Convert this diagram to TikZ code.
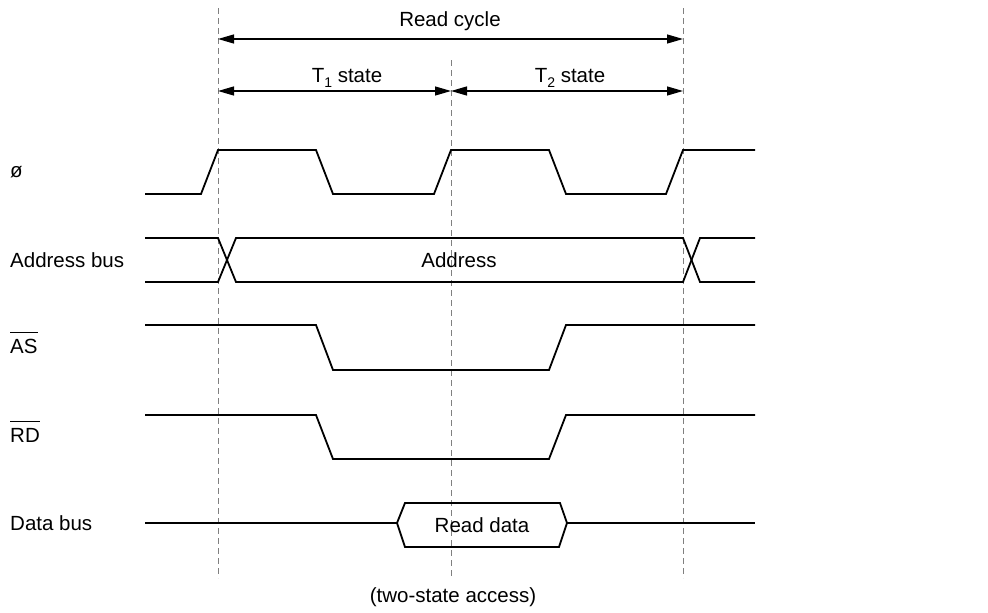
\documentclass[tikz,border=0pt]{standalone}
\usepackage{fontspec}
\setmainfont{Liberation Sans}
\usetikzlibrary{arrows.meta,positioning,calc}
\newcommand\notsig[1]{\sbox0{#1}\rlap{\rule[1em]{\wd0}{0.9pt}}\usebox0}
\newcommand\tsub[1]{\raisebox{-0.28em}{\fontsize{14pt}{16pt}\selectfont #1}}

\begin{document}
\begin{tikzpicture}[
 x=1pt, y=-1pt, font=\fontsize{20.5pt}{24pt}\selectfont,
 sig/.style={line width=1.8pt,line join=miter},
 guide/.style={gray,line width=1pt,dash pattern=on 6pt off 4pt},
 dim/.style={{Triangle[length=16pt,width=9pt]}-{Triangle[length=16pt,width=9pt]},line width=1.3pt},
 lbl/.style={anchor=base west,inner sep=0pt},
 txt/.style={anchor=base,inner sep=0pt}
]
\useasboundingbox (0,0) rectangle (988,613);
% time marks
\coordinate (ta) at (218,0);
\coordinate (tb) at (451,0);
\coordinate (tc) at (683,0);
\foreach \t/\top in {ta/8,tb/60,tc/8}
 \draw[guide] (\t |- 0,\top) -- (\t |- 0,578);

% cycle and states
\draw[dim] (ta |- 0,39) -- (tc |- 0,39);
\node[txt] (cycle) at (450,27) {Read cycle};
\draw[dim] (ta |- 0,91) -- (tb |- 0,91);
\draw[dim] (tb |- 0,91) -- (tc |- 0,91);
\node[txt] (st1) at (347,82) {T\tsub{1} state};
\node[txt] (st2) at (570,82) {T\tsub{2} state};

% signal names
\node[lbl] (phi) at (10,177) {ø};
\node[lbl] (addr) at (10,267) {Address bus};
\node[lbl] (as) at (10,353) {\notsig{AS}};
\node[lbl] (rd) at (10,442) {\notsig{RD}};
\node[lbl] (data) at (10,530) {Data bus};

% clock
\draw[sig] (145,194) -- (201,194) -- (218,150) -- (316,150) -- (333,194) -- (434,194)
 -- (451,150) -- (549,150) -- (566,194) -- (666,194) -- (683,150) -- (755,150);
% address bus
\draw[sig] (145,238) -- (218,238) -- (236,282) -- (683,282) -- (700,238) -- (755,238);
\draw[sig] (145,282) -- (218,282) -- (236,238) -- (683,238) -- (700,282) -- (755,282);
\node[txt] (adval) at (459,267) {Address};
% AS and RD
\draw[sig] (145,325) -- (316,325) -- (333,370) -- (549,370) -- (566,325) -- (755,325);
\draw[sig] (145,415) -- (316,415) -- (333,459) -- (549,459) -- (566,415) -- (755,415);
% data bus
\draw[sig] (145,523) -- (397,523) -- (405,503) -- (560,503) -- (567,523) -- (559,547)
 -- (405,547) -- (397,523);
\draw[sig] (567,523) -- (755,523);
\node[txt] (rdval) at (482,532) {Read data};

\node[txt] (note) at (453,602) {(two-state access)};
\end{tikzpicture}
\end{document}
